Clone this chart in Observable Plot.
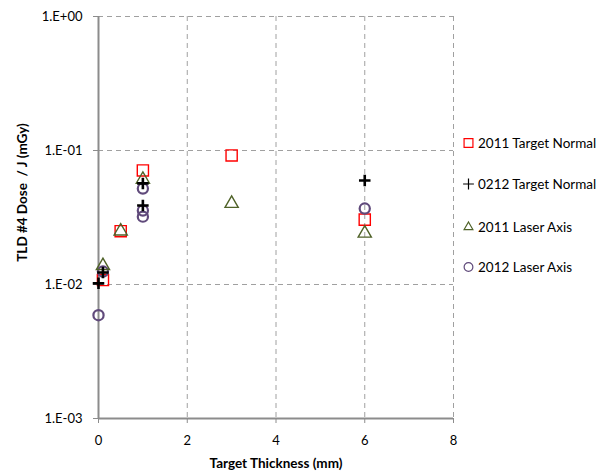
<!DOCTYPE html>
<html>
<head>
<meta charset="utf-8">
<script src="https://cdn.jsdelivr.net/npm/d3@7"></script>
<script src="https://cdn.jsdelivr.net/npm/@observablehq/plot@0.6"></script>
<style>
  html, body { margin: 0; padding: 0; background: #fff; }
  #wrap { position: relative; width: 608px; height: 475px; font-family: Lato, "Liberation Sans", sans-serif; }
  #legend { position: absolute; left: 462px; top: 0; font-size: 13.5px; color: #000; }
  .item { position: absolute; white-space: nowrap; display: flex; align-items: center; left: 0; }
  .item svg { margin-right: 3px; }
</style>
</head>
<body>
<div id="wrap"><div id="chart"></div><div id="legend"></div></div>
<script>
// Series names and styles
const seriesNames = ["2011 Target Normal", "0212 Target Normal", "2011 Laser Axis", "2012 Laser Axis"];
const seriesSymbols = ["square", "plus", "triangle", "circle"];
const seriesColors = ["#FF0000", "#000000", "#4F6228", "#604A7B"];

// Data: thickness (mm) and dose per J (mGy)
const x2011TN = [0.1, 0.5, 1, 3, 6];
const y2011TN = [0.0108, 0.0250, 0.0710, 0.0918, 0.0305];

const x0212TN = [0, 0.1, 1, 1, 6];
const y0212TN = [0.0102, 0.0123, 0.0568, 0.0389, 0.0597];

const x2011LA = [0.1, 0.5, 1, 3, 6];
const y2011LA = [0.0138, 0.0250, 0.0608, 0.0402, 0.0241];

const x2012LA = [0, 0.1, 1, 1, 1, 6];
const y2012LA = [0.0059, 0.0125, 0.0520, 0.0356, 0.0321, 0.0369];

// Axis ticks
const xTicks = [0, 2, 4, 6, 8];
const yTicks = [0.001, 0.01, 0.1, 1];
const yTickLabels = ["1.E-03", "1.E-02", "1.E-01", "1.E+00"];
const xTitle = "Target Thickness (mm)";
const yTitle = "TLD #4 Dose  / J (mGy)";

const allX = [x2011TN, x0212TN, x2011LA, x2012LA];
const allY = [y2011TN, y0212TN, y2011LA, y2012LA];
const data = [];
allX.forEach((xs, s) => xs.forEach((x, i) => data.push({series: seriesNames[s], x, y: allY[s][i], s})));

const symR = [6.3, 3.8, 4.9, 5.1];
const symW = [1.4, 2.6, 1.4, 2.2];

const gridColor = "#A0A0A0";
const axisColor = "#8C8C8C";

const chart = Plot.plot({
  width: 608,
  height: 475,
  marginLeft: 98,
  marginRight: 155,
  marginTop: 16,
  marginBottom: 57,
  style: {fontFamily: "Lato, 'Liberation Sans', sans-serif", fontSize: "13px", color: "#000", background: "#fff"},
  x: {domain: [0, 8]},
  y: {type: "log", domain: [0.001, 1]},
  r: {type: "identity"},
  symbol: {type: "identity"},
  color: {type: "identity"},
  marks: [
    Plot.ruleX(xTicks.filter(d => d > 0), {stroke: gridColor, strokeDasharray: "5,4", strokeWidth: 1}),
    Plot.ruleY(yTicks.filter(d => d > 0.001), {stroke: gridColor, strokeDasharray: "5,4", strokeWidth: 1}),
    Plot.ruleX([0], {stroke: axisColor, strokeWidth: 2}),
    Plot.ruleY([0.001], {stroke: axisColor, strokeWidth: 2}),
    Plot.axisX({ticks: xTicks, tickSize: 5, tickPadding: 12, stroke: axisColor, tickFormat: d => String(d), label: null, fontSize: 13}),
    Plot.axisY({ticks: yTicks, tickSize: 5, tickPadding: 11, stroke: axisColor,
      tickFormat: d => yTickLabels[yTicks.indexOf(d)], label: null, fontSize: 13}),
    Plot.text([xTitle], {frameAnchor: "bottom", dy: 49, fontWeight: "bold", fontSize: 13.5, fill: "#000"}),
    Plot.text([yTitle], {frameAnchor: "left", textAnchor: "middle", lineAnchor: "middle", dx: -76, dy: -25, rotate: -90, fontWeight: "bold", fontSize: 13.5, fill: "#000"}),
    Plot.dot(data, {x: "x", y: "y", symbol: d => seriesSymbols[d.s], stroke: d => seriesColors[d.s],
      r: d => symR[d.s], strokeWidth: d => symW[d.s], fill: "none"})
  ]
});
document.getElementById("chart").appendChild(chart);

// Legend
const legendY = [143, 184, 227, 267];
const legend = document.getElementById("legend");
seriesNames.forEach((name, i) => {
  const div = document.createElement("div");
  div.className = "item";
  div.style.top = (legendY[i] - 9) + "px";
  div.style.height = "18px";
  const sym = d3.symbol(
    i === 0 ? d3.symbolSquare2 : i === 1 ? d3.symbolPlus : i === 2 ? d3.symbolTriangle2 : d3.symbolCircle,
    i === 0 ? 100 : i === 1 ? 40 : i === 2 ? 55 : 60)();
  div.innerHTML = `<svg width="13" height="14" viewBox="-6.5 -7 13 14"><path d="${sym}" fill="none" stroke="${seriesColors[i]}" stroke-width="1.2"></path></svg><span>${name}</span>`;
  legend.appendChild(div);
});
</script>
</body>
</html>
